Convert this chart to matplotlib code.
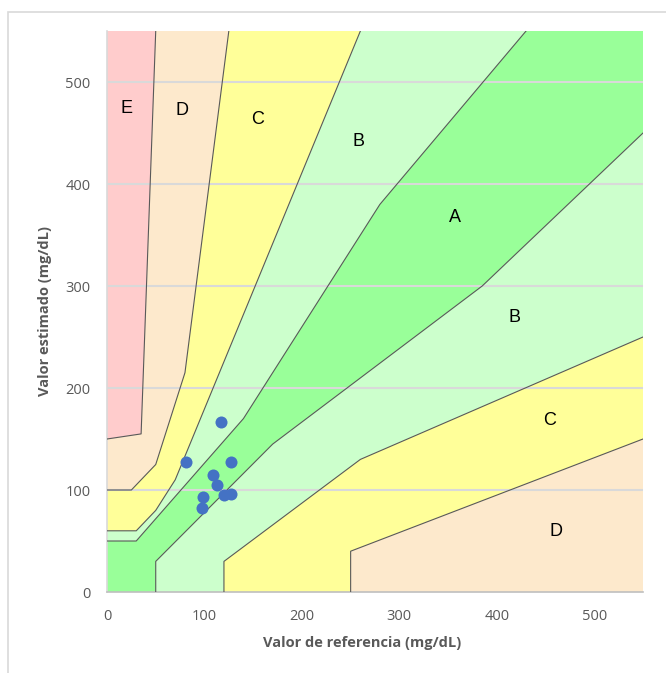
"""
Rejilla de error de Parkes (tipo 1) con las mediciones
"""
import matplotlib
matplotlib.use('Agg')
import matplotlib.pyplot as plt
from matplotlib.patches import Polygon, Rectangle

# límites de las zonas (referencia, estimado)
e_up = [(0, 150), (35, 155), (50, 550)]
c_up = [(0, 100), (25, 100), (50, 125), (80, 215), (125, 550)]
b_up = [(0, 60), (30, 60), (50, 80), (70, 110), (260, 550)]
a_up = [(0, 50), (30, 50), (140, 170), (280, 380), (430, 550)]
a_low = [(50, 0), (50, 30), (170, 145), (385, 300), (550, 450)]
b_low = [(120, 0), (120, 30), (260, 130), (550, 250)]
c_low = [(250, 0), (250, 40), (550, 150)]

# etiquetas de zona
zone_names = ['E', 'D', 'C', 'B', 'A', 'B', 'C', 'D']
zone_x = [20, 77, 155, 258, 357, 418, 454, 461]
zone_y = [474, 472, 463, 442, 367, 269, 168, 59]

# mediciones
ref_vals = [117, 81, 127, 109, 113, 99, 97, 120, 127]
est_vals = [167, 127, 127, 115, 105, 93, 82, 95, 96]

colors = {'E': '#FFCCCC', 'D': '#FDE9CC', 'C': '#FFFF99',
          'B': '#CCFFCC', 'A': '#99FF99'}
gray = '#595959'
lim = 550

fig = plt.figure(figsize=(6.66, 6.73), dpi=100)
fig.patches.append(Rectangle((8 / 666, -0.1), 1.2, 1 - 11.5 / 673 + 0.1,
                             transform=fig.transFigure, fill=False,
                             edgecolor='#D9D9D9', linewidth=1.2))
ax = fig.add_axes([107 / 666, 1 - 592 / 673, 536 / 666, 561 / 673])

# fondo = zona D, luego C, B, A encima
ax.add_patch(Rectangle((0, 0), lim, lim, facecolor=colors['D'], edgecolor='none', zorder=0))
for pts_up, pts_low, z in [(c_up, c_low, 'C'), (b_up, b_low, 'B'), (a_up, a_low, 'A')]:
    poly = pts_up + [(lim, lim)] + pts_low[::-1] + [(0, 0)]
    ax.add_patch(Polygon(poly, closed=True, facecolor=colors[z], edgecolor='none', zorder=1))
ax.add_patch(Polygon(e_up + [(0, lim)], closed=True, facecolor=colors['E'],
                     edgecolor='none', zorder=1))

# líneas de rejilla
for yv in range(100, 600, 100):
    ax.axhline(yv, color='#D9D9D9', linewidth=1.5, zorder=2)

# bordes de las zonas
for line in [e_up, c_up, b_up, a_up, a_low, b_low, c_low]:
    xs, ys = zip(*line)
    ax.plot(xs, ys, color=gray, linewidth=0.8, zorder=3)

for name, zx, zy in zip(zone_names, zone_x, zone_y):
    ax.text(zx, zy, name, ha='center', va='center', fontsize=13,
            family='Liberation Sans', color='black', zorder=4)

ax.scatter(ref_vals, est_vals, s=75, color='#4472C4', zorder=5, linewidths=0)

ax.set_xlim(0, lim)
ax.set_ylim(0, lim)
ax.set_xticks(range(0, 600, 100))
ax.set_yticks(range(0, 600, 100))
ax.tick_params(length=0, labelsize=10.5, labelcolor=gray, pad=12)
for lab in ax.get_xticklabels() + ax.get_yticklabels():
    lab.set_family('Open Sans')
for side in ['top', 'right']:
    ax.spines[side].set_visible(False)
ax.spines['left'].set_color('#D9D9D9')
ax.spines['bottom'].set_color('#BFBFBF')
ax.spines['left'].set_linewidth(1.2)
ax.spines['bottom'].set_linewidth(1.2)

ax.set_xlabel('Valor de referencia (mg/dL)', fontsize=10.5, fontweight='bold',
              color=gray, family='Open Sans')
ax.xaxis.set_label_coords(0.476, -0.078)
ax.set_ylabel('Valor estimado (mg/dL)', fontsize=10.5, fontweight='bold',
              color=gray, family='Open Sans')
ax.yaxis.set_label_coords(-0.103, 0.5)

fig.savefig('out.png', dpi=100)
